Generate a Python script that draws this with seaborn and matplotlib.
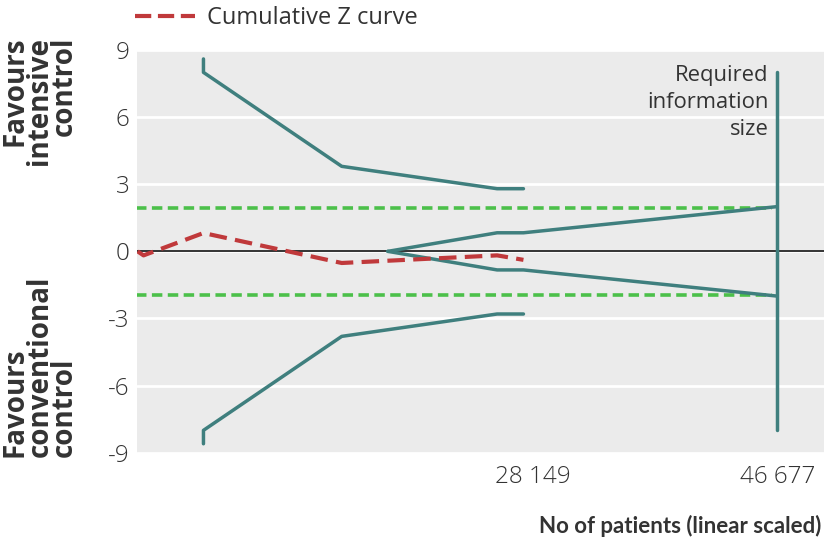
import matplotlib
matplotlib.use('Agg')
import matplotlib.pyplot as plt
import seaborn as sns
from matplotlib.lines import Line2D

# Trial sequential analysis data
z_patients = [-1900, -1450, 3100, 13600, 25400, 27400]
z_values = [0.0, -0.18, 0.82, -0.52, -0.18, -0.38]

benefit_patients = [3100, 3100, 13600, 25400, 27400]
benefit_z = [8.6, 8.0, 3.8, 2.8, 2.8]

futility_patients = [17100, 25400, 27400, 46677]
futility_z = [0.0, 0.83, 0.83, 2.0]

ris_patients = [46677, 46677]
ris_z = [8.0, -8.0]

conventional_patients = [-2000, 46300]
conventional_z = 1.96

x_ticks = [28149, 46677]
x_tick_labels = ['28 149', '46 677']
y_ticks = [-9, -6, -3, 0, 3, 6, 9]

teal = '#3f7f7e'
red = '#c0393b'
green = '#4cc04a'
text_col = '#333333'
label_font = ['Open Sans', 'DejaVu Sans']

sns.set_theme(style='darkgrid', rc={'axes.facecolor': '#ebebeb', 'grid.color': 'white',
                                    'grid.linewidth': 2})
plt.rcParams['font.family'] = ['Open Sans', 'DejaVu Sans']

fig = plt.figure(figsize=(8.24, 5.44), dpi=100)
ax = fig.add_axes([0.1657, 0.1678, 0.8343, 0.7403])

# Conventional significance boundaries
for sign in (1, -1):
    ax.plot(conventional_patients, [sign * conventional_z] * 2, color=green, lw=2.6,
            ls=(0, (2.9, 1.5)), zorder=2)

ax.axhline(0, color='#333333', lw=1.4, zorder=2)

# Monitoring (benefit) and futility boundaries
for sign in (1, -1):
    sns.lineplot(x=benefit_patients, y=[sign * v for v in benefit_z], ax=ax, color=teal,
                 lw=2.5, sort=False, estimator=None, zorder=3)
    sns.lineplot(x=futility_patients, y=[sign * v for v in futility_z], ax=ax, color=teal,
                 lw=2.5, sort=False, estimator=None, zorder=3)
sns.lineplot(x=ris_patients, y=ris_z, ax=ax, color=teal, lw=2.5, sort=False,
             estimator=None, zorder=3)

# Cumulative Z curve
sns.lineplot(x=z_patients, y=z_values, ax=ax, color=red, lw=3, sort=False,
             estimator=None, zorder=4)
ax.lines[-1].set_dashes((4.2, 2))

ax.set_xlim(-1982, 50224)
ax.set_ylim(-9, 9)
ax.set_yticks(y_ticks)
ax.set_yticklabels([str(t) for t in y_ticks])
ax.set_xticks(x_ticks)
ax.set_xticklabels(x_tick_labels)
ax.grid(axis='x', visible=False)
ax.tick_params(axis='y', length=0, pad=5, labelsize=17.5, labelcolor=text_col)
ax.tick_params(axis='x', direction='in', length=5, width=2, color='white', pad=9,
               labelsize=17.5, labelcolor=text_col)
for t in ax.get_xticklabels() + ax.get_yticklabels():
    t.set_fontweight('light')
for s in ax.spines.values():
    s.set_visible(False)

ax.text(46000, 8.35, 'Required\ninformation\nsize', ha='right', va='top', fontsize=15.8,
        color=text_col, linespacing=1.38)

ax.set_xlabel('')
ax.set_ylabel('')
fig.text(0.997, 0.034, 'No of patients (linear scaled)', ha='right', va='center',
         fontsize=16, fontweight='bold', color=text_col, family=['Lato', 'Open Sans'])
fig.text(40 / 824, 1 - 37 / 544, 'Favours\nintensive\ncontrol', rotation=90, ha='center',
         va='top', multialignment='right', fontsize=20, fontweight='bold',
         color=text_col, linespacing=0.8, family=label_font)
fig.text(40 / 824, 1 - 457 / 544, 'Favours\nconventional\ncontrol', rotation=90,
         ha='center', va='bottom', multialignment='left', fontsize=20,
         fontweight='bold', color=text_col, linespacing=0.8, family=label_font)

handle = Line2D([], [], color=red, lw=3, dashes=(3.9, 1.6))
fig.legend([handle], ['Cumulative Z curve'], loc='center left',
           bbox_to_anchor=(135 / 824, 1 - 18 / 544), frameon=False, fontsize=17,
           handlelength=2.55, handletextpad=0.5, borderpad=0, borderaxespad=0,
           labelcolor=text_col)

fig.savefig('out.png', dpi=100)
